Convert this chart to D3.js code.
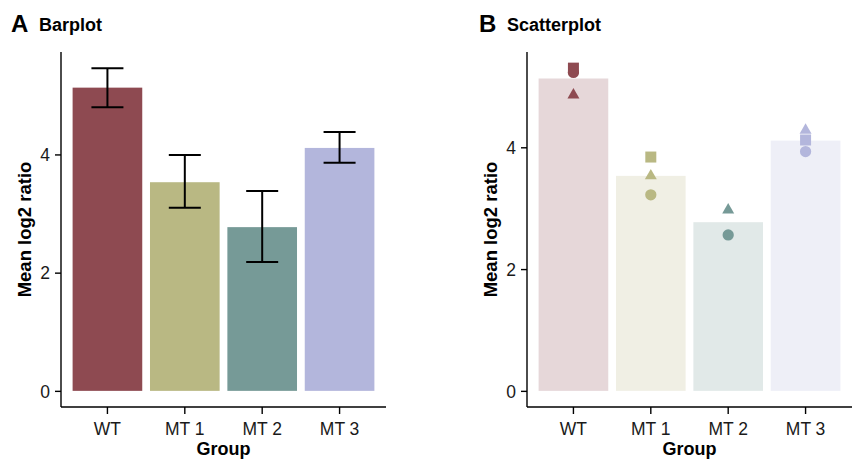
<!DOCTYPE html>
<html>
<head>
<meta charset="utf-8">
<script src="https://cdn.jsdelivr.net/npm/d3@7"></script>
<style>
  body { margin: 0; background: white; }
  svg { font-family: "Liberation Sans", Arial, Helvetica, sans-serif; }
</style>
</head>
<body>
<div id="chart"></div>
<script>
'use strict';

// data
var groups = ["WT", "MT 1", "MT 2", "MT 3"];
var colors = ["#8e4a51", "#b9b883", "#769a97", "#b3b6dc"];
var means = [5.13, 3.53, 2.77, 4.11];
var errHigh = [5.46, 3.99, 3.38, 4.38];
var errLow = [4.80, 3.10, 2.18, 3.86];
// replicates (one per shape), null where no point is shown
var circleVals = [5.23, 3.22, 2.56, 3.93];
var squareVals = [5.30, 3.84, null, 4.12];
var triangleVals = [4.86, 3.53, 2.97, 4.28];
var yTicks = [0, 2, 4];

var W = 853, H = 460;
var svg = d3.select("#chart").append("svg")
    .attr("width", W).attr("height", H);

function panel(opt) {
    var g = svg.append("g");
    var top = 52, bottom = 407;

    var x = d3.scaleBand().domain(groups)
        .range([opt.x0, opt.x0 + 325])
        .paddingInner(0.1).paddingOuter(0.15);
    var y = d3.scaleLinear()
        .domain([-0.05 * opt.yMax, 1.05 * opt.yMax])
        .range([bottom, top]);

    // bars
    g.selectAll("rect.bar").data(groups).enter().append("rect")
        .attr("x", function(d) { return x(d); })
        .attr("width", x.bandwidth())
        .attr("y", function(d, i) { return y(means[i]); })
        .attr("height", function(d, i) { return y(0) - y(means[i]); })
        .attr("fill", function(d, i) { return colors[i]; })
        .attr("fill-opacity", opt.barOpacity);

    if (opt.errors) {
        var cap = 16;
        groups.forEach(function(d, i) {
            var cx = x(d) + x.bandwidth() / 2;
            var eg = g.append("g").attr("stroke", "black").attr("stroke-width", 2);
            eg.append("line").attr("x1", cx).attr("x2", cx)
                .attr("y1", y(errLow[i])).attr("y2", y(errHigh[i]));
            eg.append("line").attr("x1", cx - cap).attr("x2", cx + cap)
                .attr("y1", y(errLow[i])).attr("y2", y(errLow[i]));
            eg.append("line").attr("x1", cx - cap).attr("x2", cx + cap)
                .attr("y1", y(errHigh[i])).attr("y2", y(errHigh[i]));
        });
    }

    if (opt.points) {
        var shapes = [
            { vals: circleVals, sym: d3.symbolCircle, size: 100 },
            { vals: squareVals, sym: d3.symbolSquare, size: 121 },
            { vals: triangleVals, sym: d3.symbolTriangle, size: 62 }
        ];
        shapes.forEach(function(s) {
            groups.forEach(function(d, i) {
                if (s.vals[i] == null) return;
                g.append("path")
                    .attr("d", d3.symbol().type(s.sym).size(s.size)())
                    .attr("transform", "translate(" + (x(d) + x.bandwidth() / 2) + "," + y(s.vals[i]) + ")")
                    .attr("fill", colors[i]);
            });
        });
    }

    // axes
    var ya = g.append("g").attr("transform", "translate(" + opt.x0 + ",0)")
        .call(d3.axisLeft(y).tickValues(yTicks).tickFormat(d3.format("d"))
            .tickSize(6).tickSizeOuter(0).tickPadding(5));
    ya.select(".domain").attr("d", "M0," + top + "V" + bottom);
    var xa = g.append("g").attr("transform", "translate(0," + bottom + ")")
        .call(d3.axisBottom(x).tickSize(7).tickSizeOuter(0).tickPadding(6));
    xa.select(".domain").attr("d", "M" + opt.x0 + ",0H" + (opt.x0 + 325));
    g.selectAll(".domain, .tick line").attr("stroke", "black").attr("stroke-width", 1.4);
    g.selectAll(".tick text").attr("font-size", "17.5px").attr("fill", "#1a1a1a")
        .style("font-family", "'Liberation Sans', Arial, sans-serif");
    xa.selectAll(".tick text").attr("dy", null).attr("y", 28);
    ya.selectAll(".tick text").attr("dy", "0.36em");

    // axis titles
    g.append("text").attr("x", opt.x0 + 162.5).attr("y", 455)
        .attr("text-anchor", "middle").attr("font-weight", "bold").attr("font-size", "18px")
        .text("Group");
    g.append("text")
        .attr("transform", "translate(" + (opt.x0 - 30) + "," + ((top + bottom) / 2) + ") rotate(-90)")
        .attr("text-anchor", "middle").attr("font-weight", "bold").attr("font-size", "18.5px")
        .text("Mean log2 ratio");

    // panel title
    g.append("text").attr("x", opt.titleX).attr("y", 32)
        .attr("font-weight", "bold").attr("font-size", "24px").text(opt.letter);
    g.append("text").attr("x", opt.titleX + 28).attr("y", 31)
        .attr("font-weight", "bold").attr("font-size", "18px").text(opt.title);
}

panel({ x0: 61, yMax: d3.max(errHigh), barOpacity: 1, errors: true, points: false,
        letter: "A", title: "Barplot", titleX: 11 });
panel({ x0: 527, yMax: d3.max(squareVals.concat(circleVals, triangleVals)), barOpacity: 0.22,
        errors: false, points: true, letter: "B", title: "Scatterplot", titleX: 479 });
</script>
</body>
</html>
